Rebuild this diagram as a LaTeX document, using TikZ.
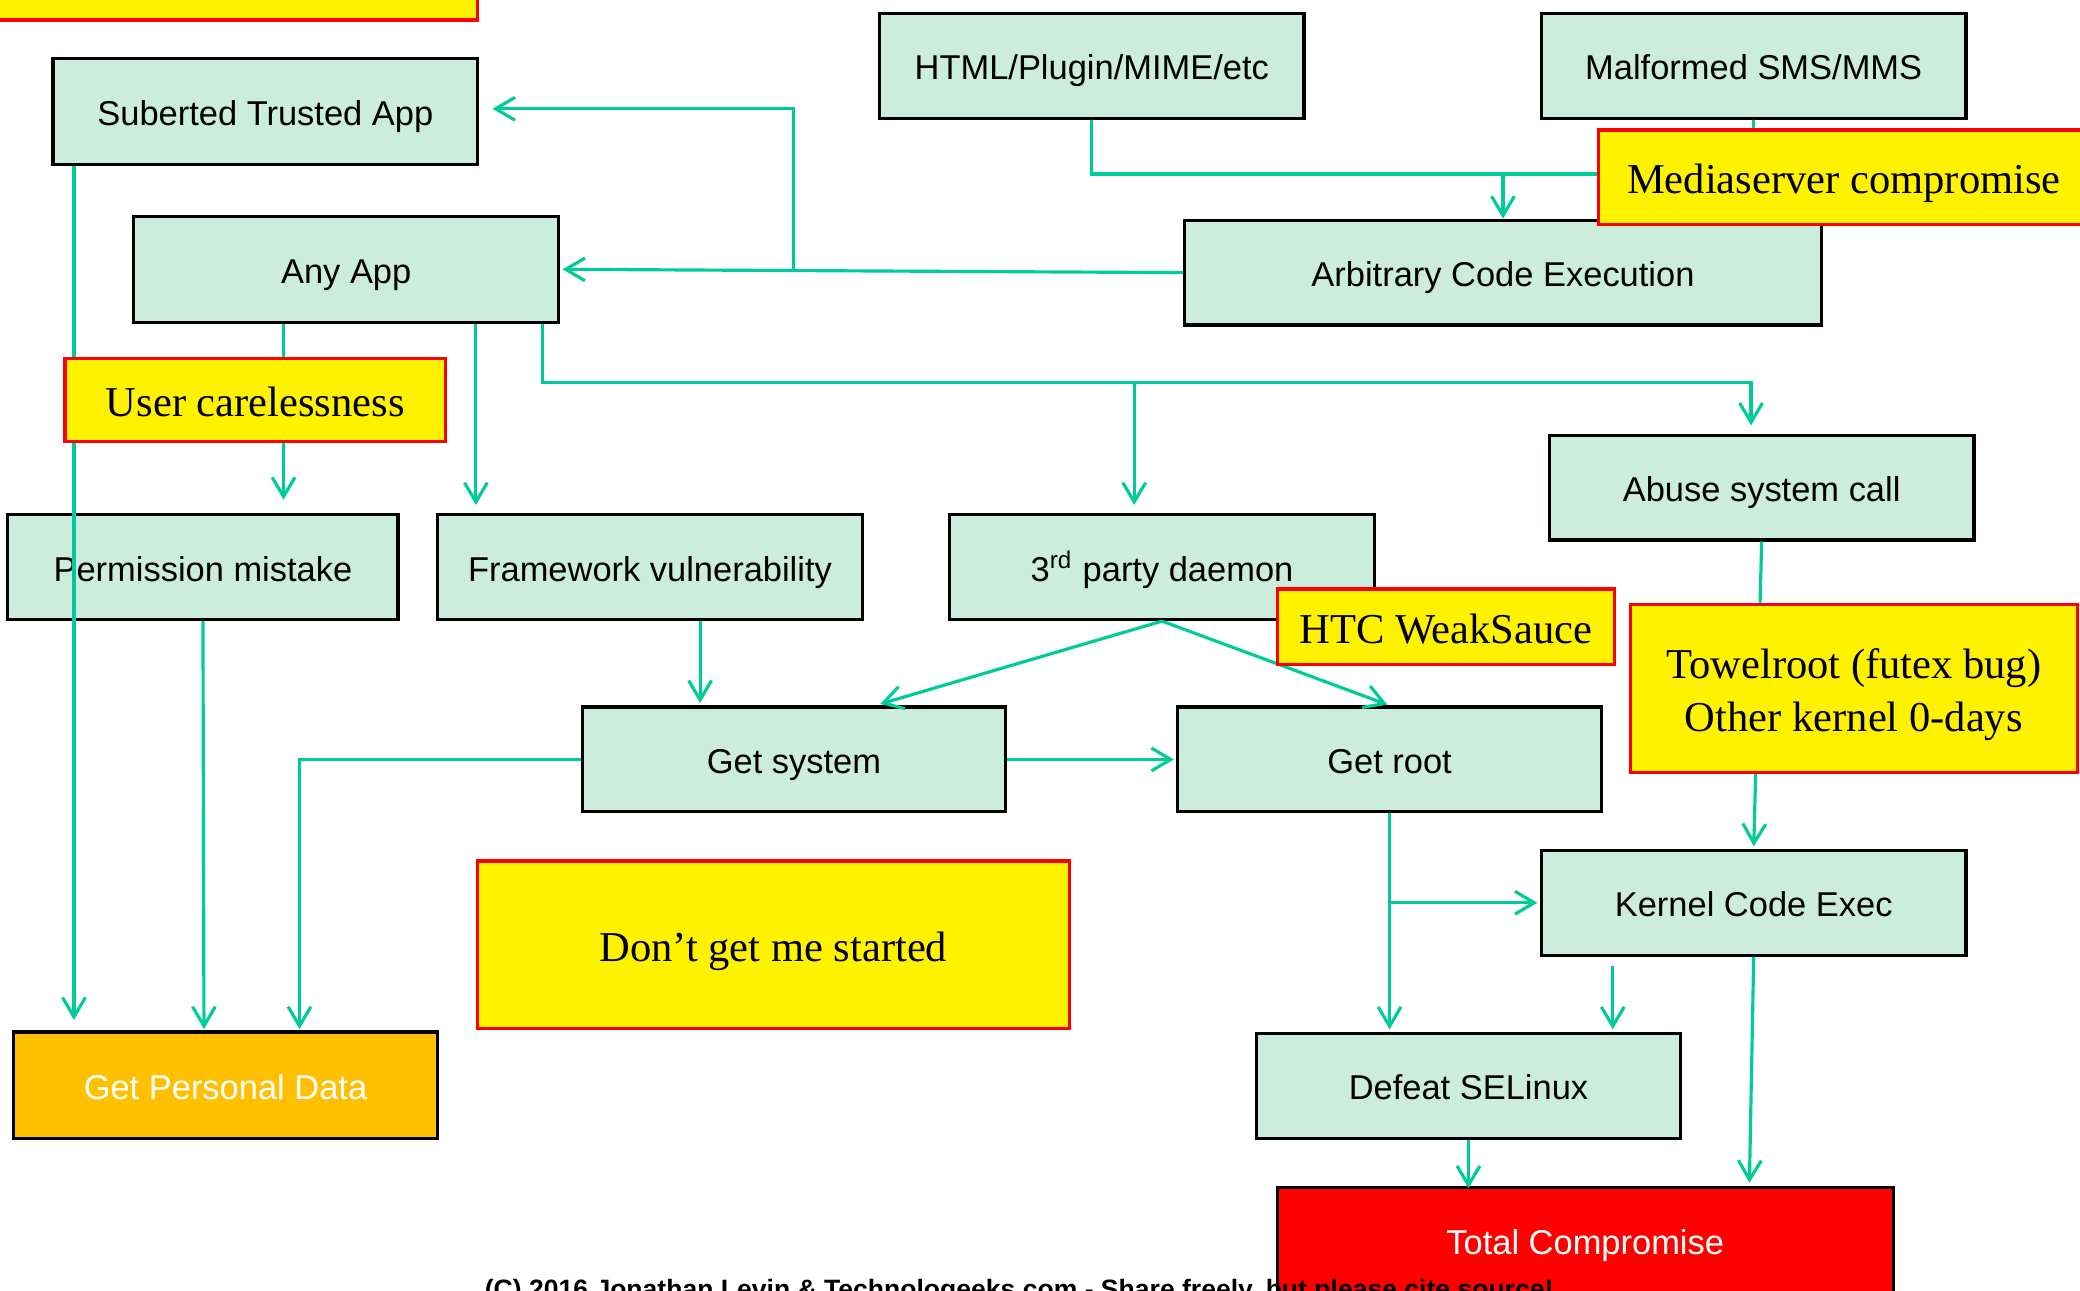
\documentclass[tikz,border=0pt]{standalone}
\usepackage{fontspec}
\setmainfont{Liberation Serif}
\setsansfont{Liberation Sans}
\usetikzlibrary{arrows.meta,calc}
\definecolor{mint}{RGB}{204,236,222}
\definecolor{linkgreen}{RGB}{0,204,153}
\definecolor{orng}{RGB}{255,192,0}
\begin{document}
\begin{tikzpicture}[x=0.013265cm, y=-0.013265cm,
  sz/.style 2 args={minimum width=#1*0.3774pt, minimum height=#2*0.3774pt},
  box/.style={draw=black, line width=0.9pt, fill=mint, inner sep=0pt,
    text height=8pt, text depth=0pt,
    font=\sffamily\fontsize{9.8}{11.5}\selectfont},
  notebase/.style={draw=red, line width=0.9pt, fill=yellow, inner sep=0pt, align=center,
    font=\rmfamily\fontsize{12.1}{15}\selectfont},
  note/.style={notebase, text height=9.5pt, text depth=0pt},
  link/.style={draw=linkgreen, line width=0.9pt},
  arr/.style={link, -{Straight Barb[length=5.5pt,width=6.5pt]}},
]
\useasboundingbox (0,0) rectangle (1568,973);
\fill[white] (0,0) rectangle (1568,973);
\clip (0,0) rectangle (1568,973);

% ---- attack surface and outcome boxes
\node[box, sz={320}{80}] (sub) at (200,84) {Suberted Trusted App};
\node[box, sz={320}{79}] (html) at (823,49.5) {HTML/Plugin/MIME/etc};
\node[box, sz={320}{79}] (mal) at (1322,49.5) {Malformed SMS/MMS};
\node[box, sz={320}{80}] (any) at (261,203) {Any App};
\node[box, sz={480}{79}] (arb) at (1133,205.5) {Arbitrary Code Execution};
\node[box, sz={320}{79}] (abuse) at (1328,367.5) {Abuse system call};
\node[box, sz={294}{79}] (perm) at (153,427.5) {Permission mistake};
\node[box, sz={320}{79}] (frame) at (490,427.5) {Framework vulnerability};
\node[box, sz={320}{79}] (third) at (876,427.5) {3\textsuperscript{rd} party daemon};
\node[box, sz={319}{79}] (gsys) at (598.5,572.5) {Get system};
\node[box, sz={319}{79}] (groot) at (1047.5,572.5) {Get root};
\node[box, sz={320}{79}] (kern) at (1322,680.5) {Kernel Code Exec};
\node[box, sz={320}{79}] (sel) at (1107,818.5) {Defeat SELinux};
\node[box, sz={320}{80}, fill=orng, text=white] (gpd) at (170,818) {Get Personal Data};
\node[box, sz={464}{80}, fill=red, text=white] (total) at (1195,935) {Total Compromise};

% ---- connectors
\coordinate (j1) at ($(html.south)+(0,41)$);
\draw[link] (html.south) -- (j1) -| (mal.south);
\draw[arr] (j1 -| arb.north) -- (arb.north);

\draw[arr, shorten >=0.7pt] (arb.west) -- (any.east);
\coordinate (j2) at ($(arb.west)!0.625!(any.east)$);
\draw[arr, shorten >=3.8pt] (j2) |- ($(sub.east)+(0,-2)$);

\draw[arr, shorten >=3pt] ($(sub.south west)+(17,0)$) coordinate (s1) -- (s1 |- gpd.north);

\draw[arr, shorten >=3.8pt] ($(any.south west)+(114,0)$) coordinate (a1) -- (a1 |- perm.north);
\draw[arr, shorten >=2.3pt] ($(any.south west)+(259,0)$) coordinate (a2) -- (a2 |- frame.north);
\coordinate (j3) at ($(any.south east)+(-13,44)$);
\draw[arr, shorten >=2.3pt] ($(any.south east)+(-13,0)$) -- (j3) -| ($(abuse.north)+(-8,0)$);
\coordinate (t1) at ($(third.north)+(-21,0)$);
\draw[arr, shorten >=2.3pt] (j3 -| t1) -- (t1);

\draw[arr, shorten >=0.4pt] (perm.south) -- ($(gpd.north west)+(145,0)$);
\draw[arr, shorten >=0.7pt] ($(frame.south west)+(199,0)$) coordinate (f1) -- (f1 |- gsys.north);
\draw[arr, shorten >=0.4pt] (gsys.west) -| ($(gpd.north west)+(217,0)$);

\draw[arr, shorten >=1.5pt] (third.south) -- ($(gsys.north west)+(222,0)$);
\draw[arr, shorten >=0.7pt] (third.south) -- (groot.north);
\draw[arr, shorten >=0.7pt] (gsys.east) -- (groot.west);

\draw[arr, shorten >=0.7pt] (abuse.south) -- (kern.north);
\draw[arr, shorten >=0.7pt] (groot.south) -- (groot.south |- sel.north);
\draw[arr, shorten >=0.7pt] (groot.south |- kern.west) -- (kern.west);
\draw[arr, shorten >=0.7pt] ($(kern.south west)+(55,7)$) coordinate (k1) -- (k1 |- sel.north);
\draw[arr, shorten >=0.8pt] (kern.south) -- ($(total.north west)+(357,0)$);
\draw[arr] (sel.south) -- ($(sel.south |- total.north)+(0,2)$);

% ---- highlighted notes
\node[note, sz={370}{55}] (topnote) at (175,-12.5) {};
\node[note, sz={370}{71}] (media) at (1390,133.5) {Mediaserver compromise};
\node[note, sz={287}{63}] (user) at (192.5,301.5) {User carelessness};
\node[note, sz={254}{57}] (htc) at (1090,472.5) {HTC WeakSauce};
\node[notebase, sz={337}{126}] (towel) at (1397.5,519)
  {\rule{0pt}{12pt}Towelroot (futex bug)\\Other kernel 0-days};
\node[note, sz={446}{126}] (dont) at (583,712) {Don’t get me started};

% ---- footer
\node[anchor=base west, inner sep=0pt, font=\sffamily\bfseries\fontsize{7.55}{9}\selectfont]
  (foot) at (365,979) {(C) 2016 Jonathan Levin \& Technologeeks.com - Share freely, but please cite source!};
\end{tikzpicture}
\end{document}
